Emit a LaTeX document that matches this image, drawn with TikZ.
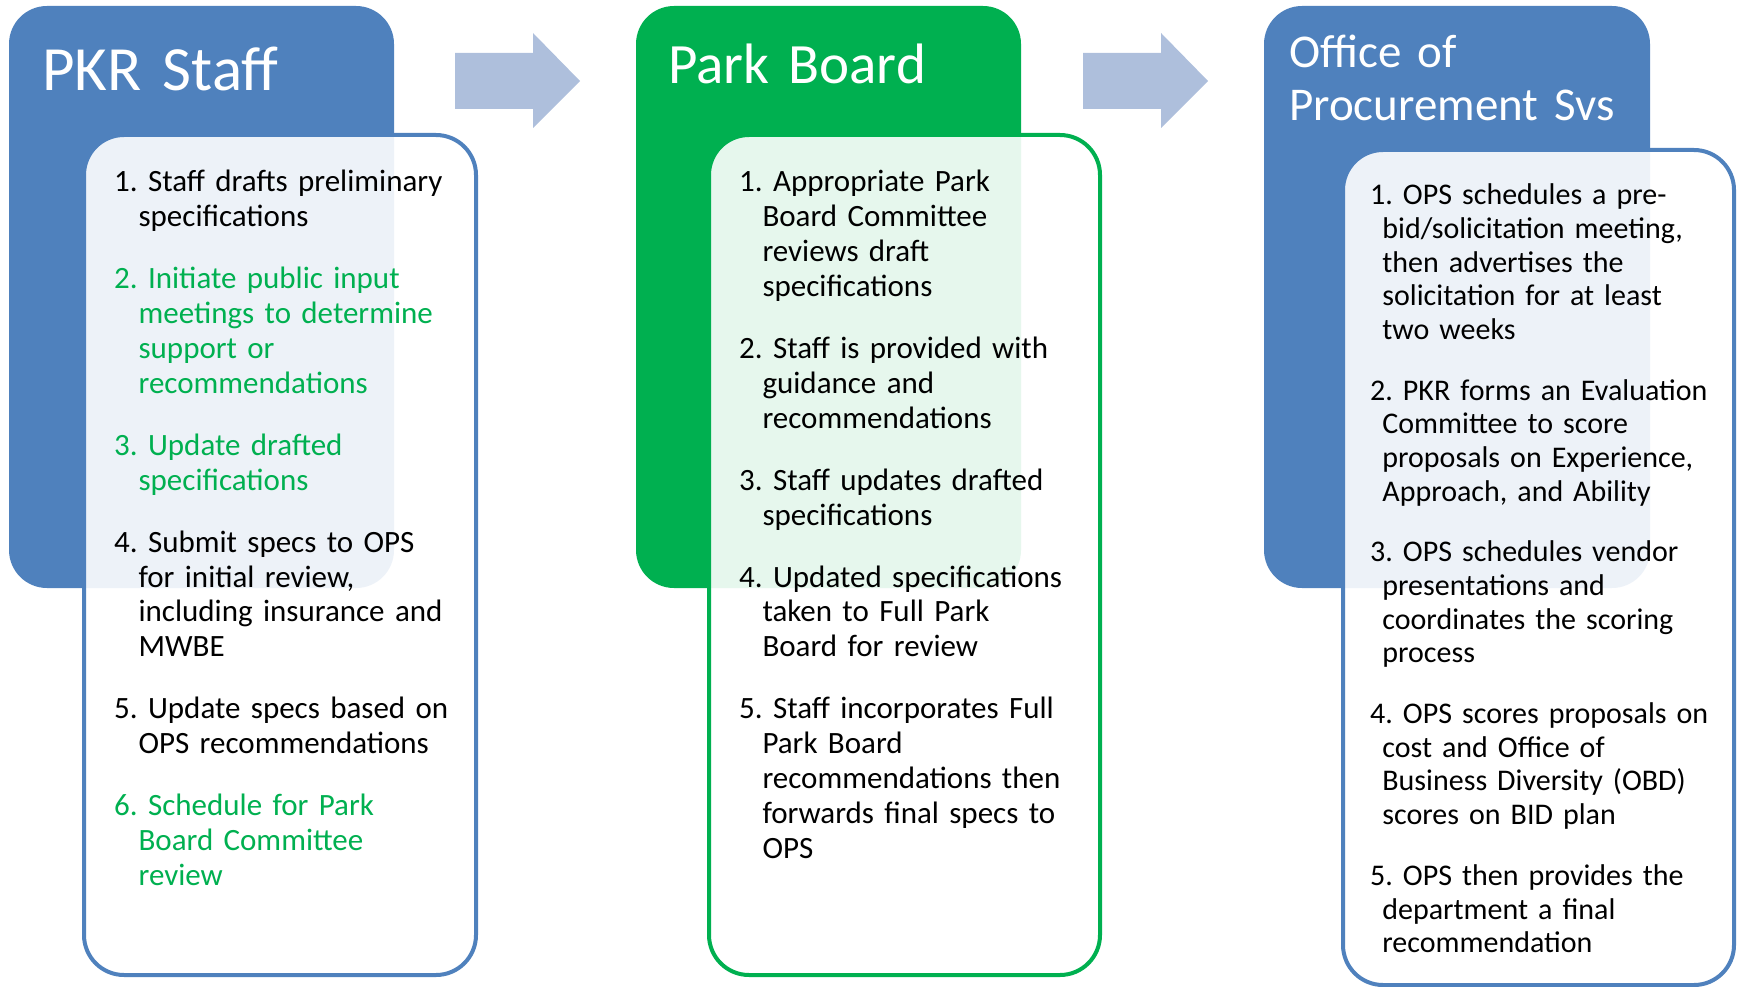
\documentclass[tikz,border=0pt]{standalone}
\usepackage{fontspec}
\setmainfont{Carlito}
\frenchspacing
\definecolor{pkblue}{RGB}{79,129,189}
\definecolor{pkgreen}{RGB}{0,176,80}
\definecolor{arrowblue}{RGB}{174,191,220}
\newcommand{\stepitem}[2]{\noindent\hangindent=#1\hangafter=1 #2\par}
\tikzset{
  header/.style={rounded corners=38pt},
  panel/.style={rounded corners=40pt, line width=4pt, fill=white, fill opacity=0.9},
  flowarrow/.style={fill=arrowblue},
  title/.style={anchor=base west, inner sep=0pt, text=white, text width=420pt},
  steps/.style={anchor=base west, inner sep=0pt, text width=420pt,
    font=\fontsize{31}{34.9}\selectfont},
  opssteps/.style={anchor=base west, inner sep=0pt, text width=420pt,
    font=\fontsize{30}{33.6}\selectfont},
}
\begin{document}
\begin{tikzpicture}[x=1pt,y=-1pt]
\useasboundingbox (0,0) rectangle (1737,987);
% headers
\fill[pkblue, header] (9,6) rectangle (394,588);
\fill[pkgreen, header] (636,6) rectangle (1021,588);
\fill[pkblue, header] (1264,6) rectangle (1650,588);
% panels
\draw[pkblue, panel] (84,135) rectangle (476,975);
\draw[pkgreen, panel] (709,135) rectangle (1100,975);
\draw[pkblue, panel] (1343,150) rectangle (1734,985);
% arrows
\fill[flowarrow] (455,53) -- (533,53) -- (533,33) -- (580,81) -- (533,128) -- (533,109) -- (455,109) -- cycle;
\fill[flowarrow] (1083,53) -- (1161,53) -- (1161,33) -- (1208,81) -- (1161,128) -- (1161,109) -- (1083,109) -- cycle;
% titles
\node[title, font=\fontsize{63}{70}\selectfont] (t1) at (42,91) {PKR Staff};
\node[title, font=\fontsize{57}{64}\selectfont] (t2) at (668,84) {Park Board};
\node[title, font=\fontsize{47}{53}\selectfont] (t3) at (1289,68) {Office of\newline Procurement Svs};
% steps
\node[steps] (s1) at (114,192) {\parskip=27pt
\stepitem{24.4pt}{1. Staff drafts preliminary\newline specifications}
{\color{pkgreen}\stepitem{24.4pt}{2. Initiate public input\newline meetings to determine\newline support or\newline recommendations}}
{\color{pkgreen}\stepitem{24.4pt}{3. Update drafted\newline specifications}}
\stepitem{24.4pt}{4. Submit specs to OPS\newline for initial review,\newline including insurance and\newline MWBE}
\stepitem{24.4pt}{5. Update specs based on\newline OPS recommendations}
{\color{pkgreen}\stepitem{24.4pt}{6. Schedule for Park\newline Board Committee\newline review}}};
\node[steps] (s2) at (739,192) {\parskip=27pt
\stepitem{23.3pt}{1. Appropriate Park\newline Board Committee\newline reviews draft\newline specifications}
\stepitem{23.3pt}{2. Staff is provided with\newline guidance and\newline recommendations}
\stepitem{23.3pt}{3. Staff updates drafted\newline specifications}
\stepitem{23.3pt}{4. Updated specifications\newline taken to Full Park\newline Board for review}
\stepitem{23.3pt}{5. Staff incorporates Full\newline Park Board\newline recommendations then\newline forwards final specs to\newline OPS}};
\node[opssteps] (s3) at (1370,205) {\parskip=27.3pt
\stepitem{12.2pt}{1. OPS schedules a pre-\newline bid/solicitation meeting,\newline then advertises the\newline solicitation for at least\newline two weeks}
\stepitem{12.2pt}{2. PKR forms an Evaluation\newline Committee to score\newline proposals on Experience,\newline Approach, and Ability}
\stepitem{12.2pt}{3. OPS schedules vendor\newline presentations and\newline coordinates the scoring\newline process}
\stepitem{12.2pt}{4. OPS scores proposals on\newline cost and Office of\newline Business Diversity (OBD)\newline scores on BID plan}
\stepitem{12.2pt}{5. OPS then provides the\newline department a final\newline recommendation}};
\end{tikzpicture}
\end{document}
